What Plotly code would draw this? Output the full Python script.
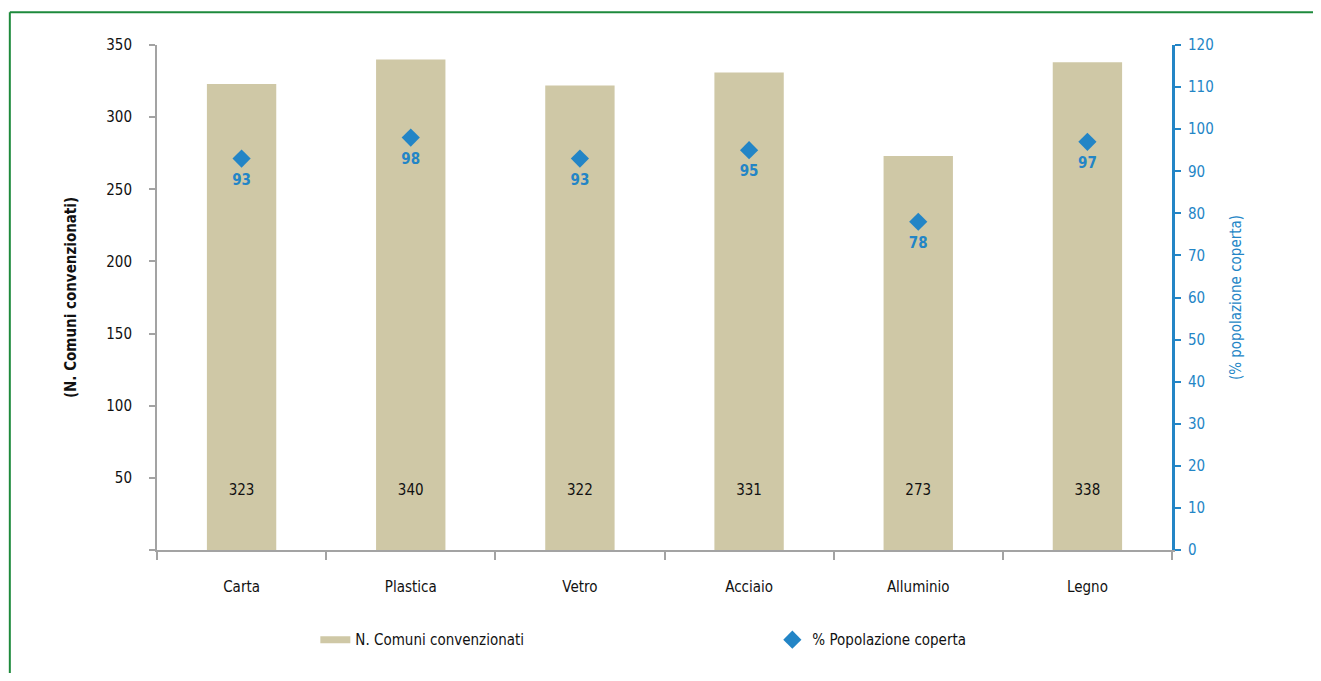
import plotly.graph_objects as go

categories = ["Carta", "Plastica", "Vetro", "Acciaio", "Alluminio", "Legno"]
comuni = [323, 340, 322, 331, 273, 338]
popolazione = [93, 98, 93, 95, 78, 97]
label_level = [41] * len(categories)
left_ticks = [0, 50, 100, 150, 200, 250, 300, 350]
left_ticktext = ["", "50", "100", "150", "200", "250", "300", "350"]
right_ticks = [0, 10, 20, 30, 40, 50, 60, 70, 80, 90, 100, 110, 120]

FONT = "DejaVu Sans Condensed, Liberation Sans Narrow, Roboto, sans-serif"
BAR = "#cfc8a6"
BLUE = "#2385c6"
GREY = "#a3a3a3"
GREEN = "#1e8a3c"

W, H = 1305, 665

fig = go.Figure()
fig.add_trace(go.Bar(
    x=categories, y=comuni, name="N. Comuni convenzionati",
    marker=dict(color=BAR, line=dict(width=0)), width=0.41,
    showlegend=False, hoverinfo="x+y",
))
# legend entry drawn as a wide flat swatch
fig.add_trace(go.Scatter(
    x=[None], y=[None], mode="lines", name="N. Comuni convenzionati",
    line=dict(color=BAR, width=7), hoverinfo="skip",
))
fig.add_trace(go.Scatter(
    x=categories, y=label_level, mode="text",
    text=[str(v) for v in comuni], textposition="middle center",
    textfont=dict(family=FONT, size=15, color="#111111"),
    showlegend=False, hoverinfo="skip",
))
fig.add_trace(go.Scatter(
    x=categories, y=popolazione, name="% Popolazione coperta",
    mode="markers", yaxis="y2",
    marker=dict(symbol="diamond", size=14, color=BLUE),
))
fig.add_trace(go.Scatter(
    x=categories, y=popolazione, mode="markers+text", yaxis="y2",
    marker=dict(symbol="diamond", size=22, color="rgba(0,0,0,0)"),
    text=[str(v) for v in popolazione], textposition="bottom center",
    textfont=dict(family=FONT, size=15, color=BLUE, weight="bold"),
    showlegend=False, hoverinfo="skip",
))

fig.update_layout(
    width=W, height=H,
    margin=dict(l=149, r=141, t=37, b=123),
    paper_bgcolor="white", plot_bgcolor="white",
    font=dict(family=FONT, size=15, color="#111111"),
    xaxis=dict(
        showline=True, linecolor=GREY, linewidth=2,
        ticks="outside", tickson="boundaries", ticklen=8, tickcolor=GREY, tickwidth=2,
        ticklabelstandoff=22, showgrid=False, zeroline=False,
        tickfont=dict(family=FONT, size=15, color="#111111"),
    ),
    yaxis=dict(
        range=[0, 350], tickvals=left_ticks, ticktext=left_ticktext,
        showline=True, linecolor=GREY, linewidth=2,
        ticks="outside", ticklen=6, tickcolor=GREY, tickwidth=2,
        ticklabelstandoff=14, showgrid=False, zeroline=False,
        tickfont=dict(family=FONT, size=15, color="#111111"),
        title=dict(text="(N. Comuni convenzionati)", standoff=26,
                   font=dict(family=FONT, size=15, color="#111111", weight="bold")),
    ),
    yaxis2=dict(
        range=[0, 120], tickvals=right_ticks, overlaying="y", side="right",
        showline=True, linecolor=BLUE, linewidth=3,
        ticks="outside", ticklen=6, tickcolor=BLUE, tickwidth=2,
        ticklabelstandoff=4, showgrid=False, zeroline=False,
        tickfont=dict(family=FONT, size=15, color=BLUE),
        title=dict(text="(% popolazione coperta)", standoff=18,
                   font=dict(family=FONT, size=15, color=BLUE)),
    ),
    legend=dict(
        orientation="h", x=0.156, y=-0.178, xanchor="left", yanchor="middle",
        entrywidth=412, entrywidthmode="pixels", traceorder="normal",
        font=dict(family=FONT, size=15, color="#111111"),
        bgcolor="rgba(0,0,0,0)",
    ),
    shapes=[
        dict(type="line", xref="paper", yref="paper", x0=-0.145, x1=1.2, y0=1.065, y1=1.065,
             line=dict(color=GREEN, width=2)),
        dict(type="line", xref="paper", yref="paper", x0=-0.145, x1=-0.145, y0=1.065, y1=-0.3,
             line=dict(color=GREEN, width=2)),
    ],
)

fig.write_html("out.html")
